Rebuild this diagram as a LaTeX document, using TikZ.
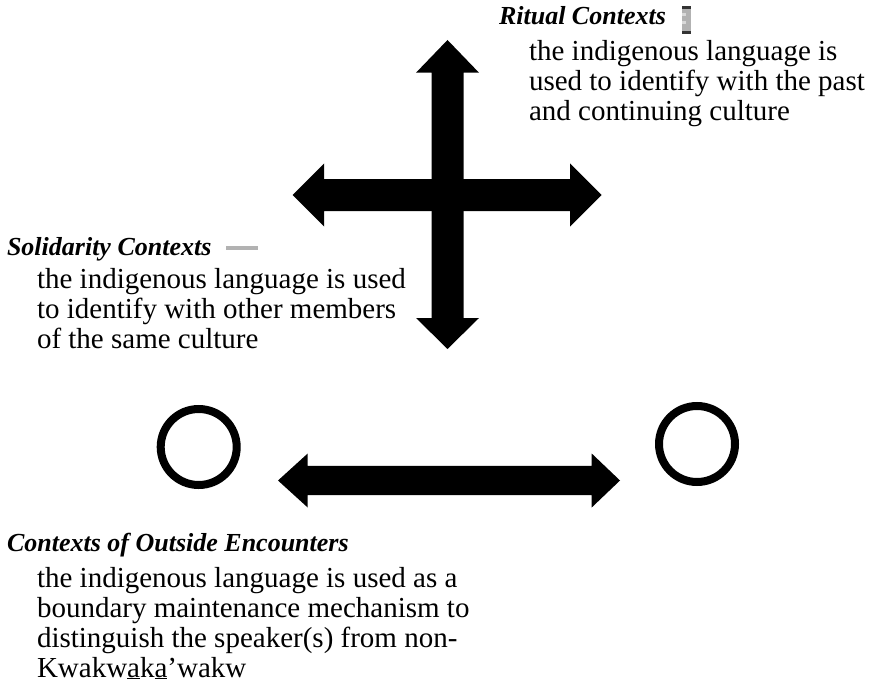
\documentclass[tikz,border=0pt]{standalone}
\usepackage{fontspec}
\setmainfont{Liberation Serif}
\tikzset{
    every node/.style={inner sep=0pt, outer sep=0pt, anchor=base west}
}
\tikzset{
    head/.style={font=\fontsize{26}{30}\selectfont\bfseries\itshape},
    body/.style={font=\fontsize{29}{30}\selectfont}
}
\tikzset{
    ring/.style={circle, draw, line width=8pt, minimum size=76pt, anchor=center},
    blockarrow/.style={fill=black},
    swatch/.style={fill=gray!60}
}

\begin{document}
\begin{tikzpicture}[x=1pt,y=-1pt]
	\useasboundingbox (0,0) rectangle (869,687);

	% ritual
	\node (rh) [head] at (499,25) {Ritual Contexts};
	\node (r1) [body] at (529,61) {the indigenous language is};
	\node (r2) [body] at (529,90.6) {used to identify with the past};
	\node (r3) [body] at (529,120.2) {and continuing culture};
	\fill[swatch] (682,6) rectangle (691,34);
	\fill[black!80] (682,6) rectangle (691,9); \fill[black!80] (682,31) rectangle (691,34);
	\fill[gray!30] (682,13) rectangle (686,16); \fill[gray!30] (682,21) rectangle (686,24);

	% solidarity
	\node (sh) [head] at (7,255) {Solidarity Contexts};
	\node (s1) [body] at (37,288) {the indigenous language is used};
	\node (s2) [body] at (37,318) {to identify with other members};
	\node (s3) [body] at (37,348) {of the same culture};
	\fill[swatch] (226,246) rectangle (258,249.5);

	% outside
	\node (oh) [head] at (7,551) {Contexts of Outside Encounters};
	\node (o1) [body] at (37,587) {the indigenous language is used as a};
	\node (o2) [body] at (37,617) {boundary maintenance mechanism to};
	\node (o3) [body] at (37,647) {distinguish the speaker(s) from non-};
	\node (o4) [body] at (37,677) {Kwakw\underline{a}k\underline{a}’wakw};

	% cross
	\fill[blockarrow] (447.5,40) -- (479,72.7) -- (463.5,72.7) -- (463.5,318)
		-- (479,318) -- (447.5,349) -- (416,318) -- (431.5,318)
		-- (431.5,72.7) -- (416,72.7) -- cycle;
	\fill[blockarrow] (292.7,195) -- (324,163.5) -- (324,179) -- (570,179)
		-- (570,163.5) -- (601.7,195) -- (570,226.5) -- (570,211)
		-- (324,211) -- (324,226.5) -- cycle;

	% encounters
	\node (lc) [ring] at (198.7,447) {};
	\node (rc) [ring] at (697,444) {};
	\fill[blockarrow] (278,480.5) -- (307.7,453.5) -- (307.7,465.8) -- (591.7,465.8)
		-- (591.7,453.5) -- (620,480.5) -- (591.7,507.5) -- (591.7,495.2)
		-- (307.7,495.2) -- (307.7,507.5) -- cycle;
\end{tikzpicture}
\end{document}
